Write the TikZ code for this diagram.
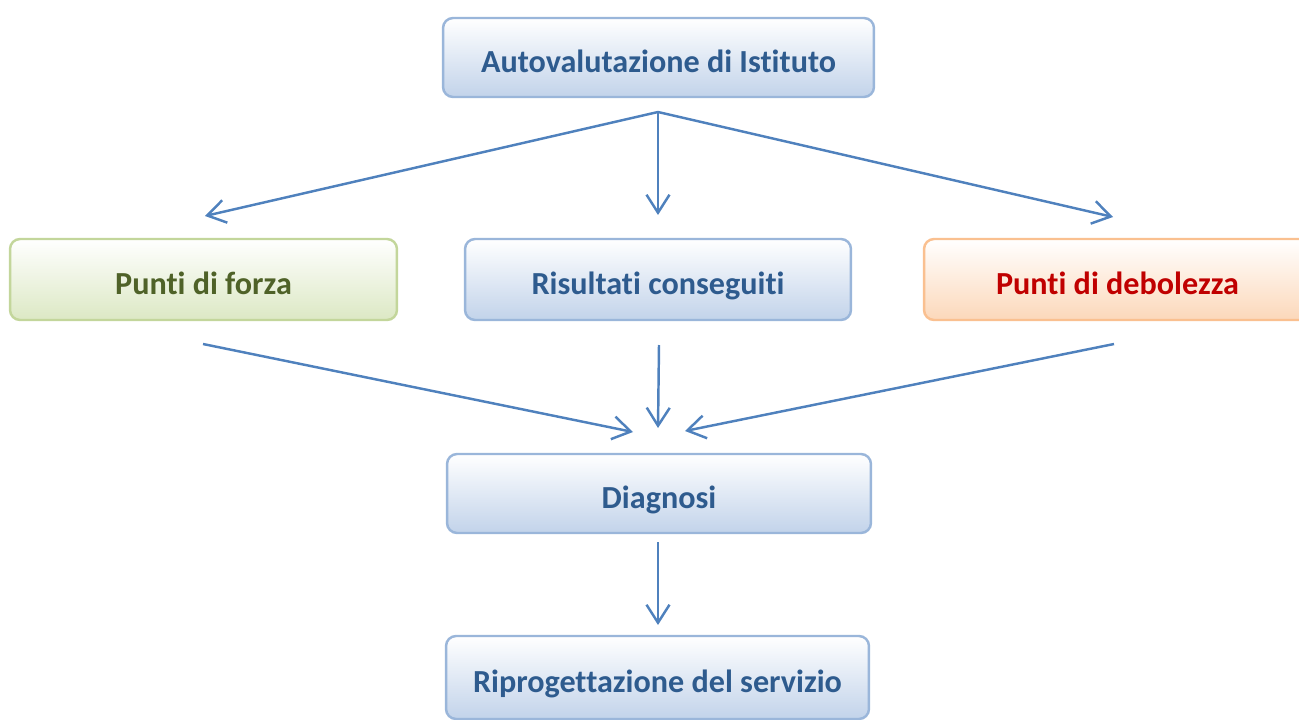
\documentclass[tikz,border=0pt]{standalone}
\usepackage{fontspec}
\setmainfont{Carlito}[Ligatures={NoCommon}]
\usetikzlibrary{arrows.meta}
\definecolor{arrblue}{HTML}{4F81BD}
\definecolor{boxblue}{HTML}{9AB6DA}
\definecolor{fillblue}{HTML}{C2D3EA}
\definecolor{txtblue}{HTML}{2E5B8E}
\definecolor{boxgreen}{HTML}{C3D69B}
\definecolor{fillgreen}{HTML}{DCE8C4}
\definecolor{txtgreen}{HTML}{4F6228}
\definecolor{boxorange}{HTML}{FAC090}
\definecolor{fillorange}{HTML}{FCD8BA}
\definecolor{txtred}{HTML}{C00000}
\tikzset{
  box/.style={rounded corners=0.2cm, line width=1.4pt, draw=boxblue,
    top color=white, bottom color=fillblue, text=txtblue,
    minimum height=1.58cm, text height=22pt, text depth=4.5pt,
    font=\fontsize{18.3}{22}\selectfont\bfseries},
  greenbox/.style={box, draw=boxgreen, bottom color=fillgreen, text=txtgreen},
  orangebox/.style={box, draw=boxorange, bottom color=fillorange, text=txtred},
  arr/.style={-{Straight Barb[length=0.36cm, width=0.46cm, line width=1.4pt]},
    line width=1.4pt, draw=arrblue}
}
\begin{document}
\begin{tikzpicture}[x=0.02cm, y=-0.02cm]
\useasboundingbox (0, 0) rectangle (1299, 720);
% boxes
\node[box, minimum width=8.62cm] (auto) at (658.5, 57.5) {Autovalutazione di Istituto};
\node[greenbox, minimum width=7.74cm, minimum height=1.62cm] (forza) at (203.5, 279.5) {Punti di forza};
\node[box, minimum width=7.72cm, minimum height=1.62cm] (risultati) at (658, 279.5) {Risultati conseguiti};
\node[orangebox, minimum width=7.74cm, minimum height=1.62cm] (debolezza) at (1117.5, 279.5) {Punti di debolezza};
\node[box, minimum width=8.48cm] (diagnosi) at (659, 493.5) {Diagnosi};
\node[box, minimum width=8.46cm, minimum height=1.66cm] (servizio) at (657.5, 677.5) {Riprogettazione del servizio};
% arrow ends
\coordinate (fork) at (658, 112);
\coordinate (toforza) at (205, 216);
\coordinate (torisultati) at (658, 215);
\coordinate (todebolezza) at (1113, 217);
\coordinate (fromforza) at (203, 344);
\coordinate (fromrisultati) at (659, 345);
\coordinate (fromdebolezza) at (1114, 344);
\coordinate (inleft) at (633, 432);
\coordinate (inmid) at (658, 428);
\coordinate (inright) at (685, 431);
\coordinate (fromdiagnosi) at (658, 542);
\coordinate (toservizio) at (658, 625);
% arrows
\draw[arr] (fork) -- (toforza);
\draw[arr] (fork) -- (torisultati);
\draw[arr] (fork) -- (todebolezza);
\draw[arr] (fromforza) -- (inleft);
\draw[arr] (fromrisultati) -- (inmid);
\draw[arr] (fromdebolezza) -- (inright);
\draw[arr] (fromdiagnosi) -- (toservizio);
\end{tikzpicture}
\end{document}
